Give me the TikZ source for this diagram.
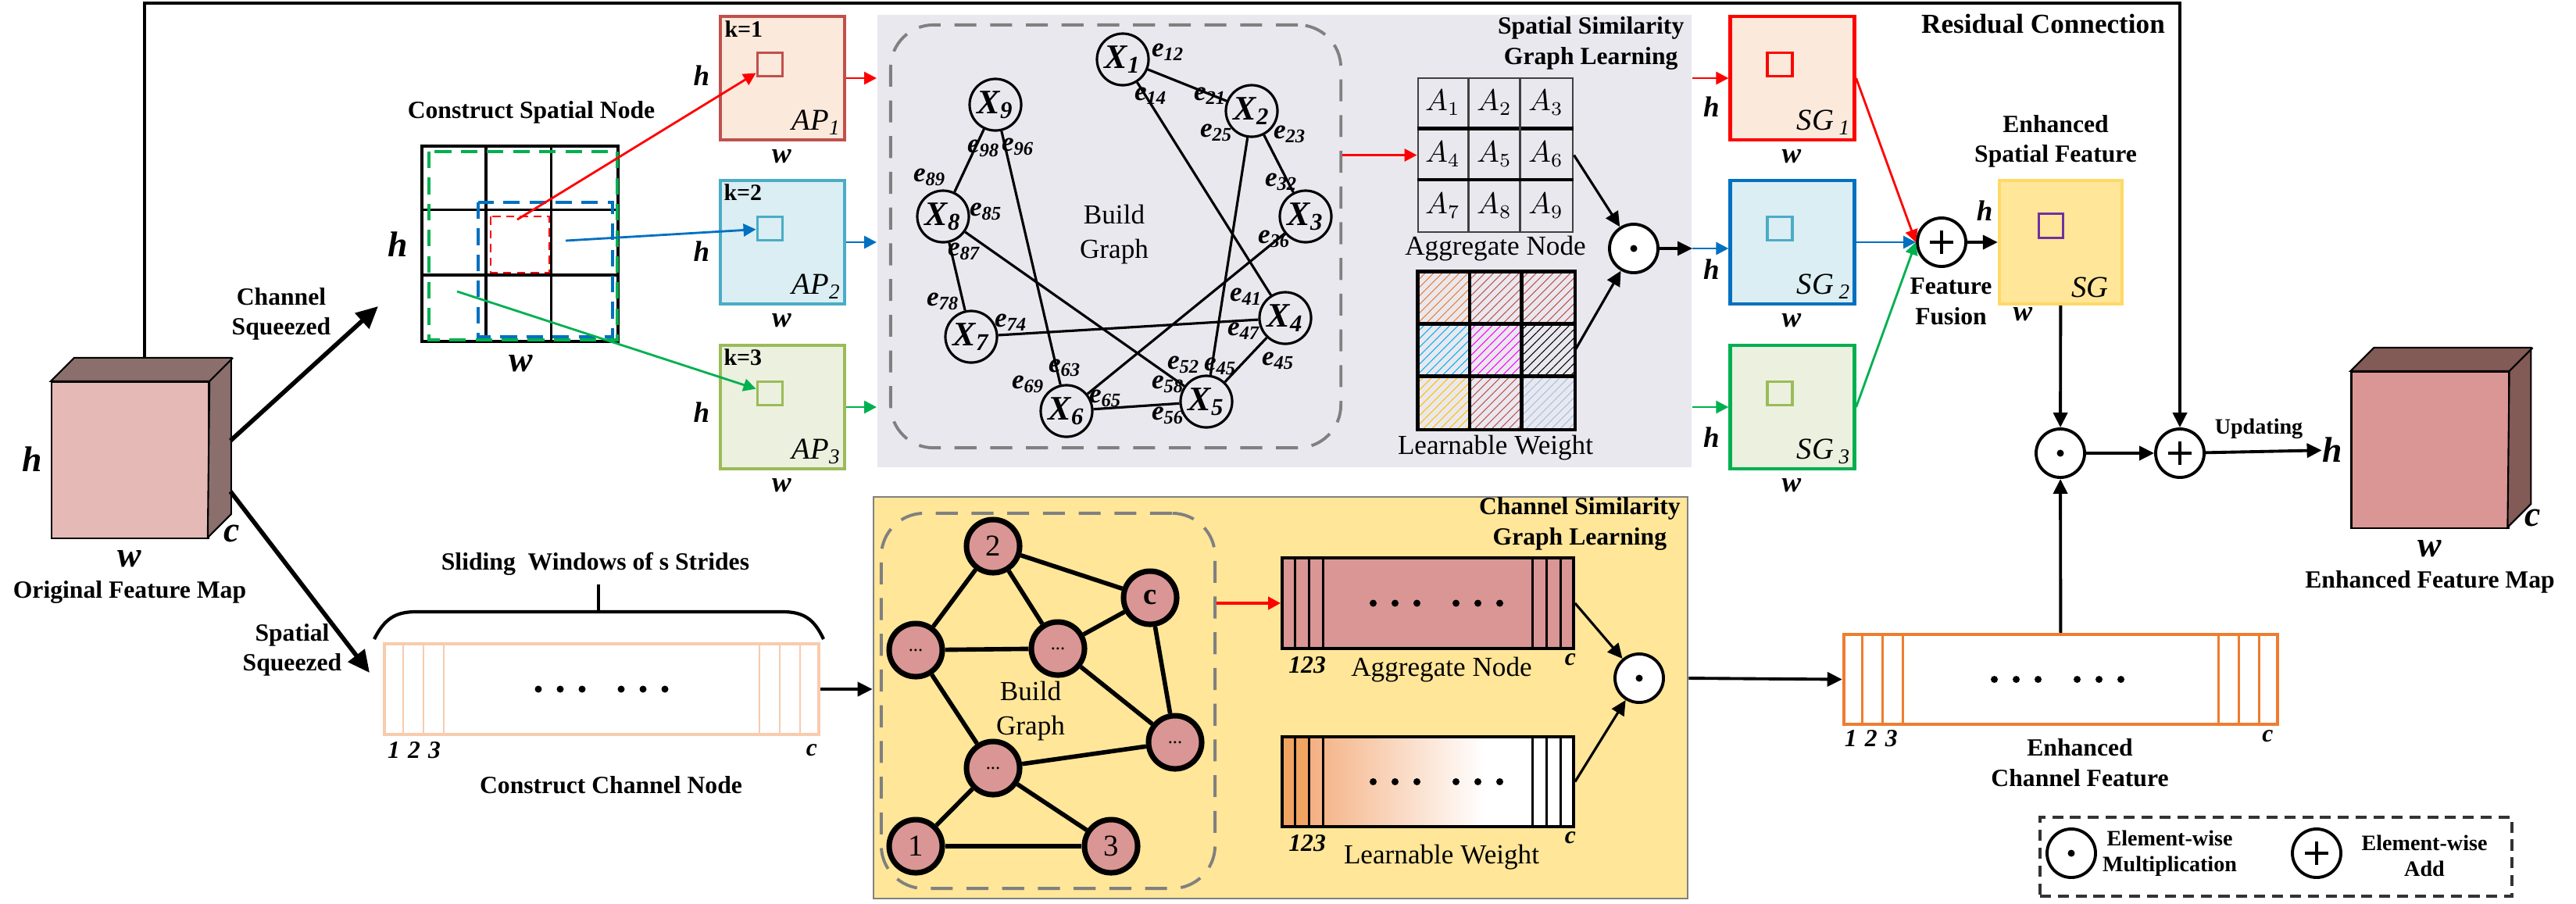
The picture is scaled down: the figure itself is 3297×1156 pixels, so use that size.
\documentclass[tikz,border=0pt]{standalone}
\usepackage{fontspec}
\setmainfont{Liberation Serif}
\usetikzlibrary{calc}
\usetikzlibrary{arrows.meta}
\usetikzlibrary{patterns.meta}
\usetikzlibrary{positioning}

% colours
\definecolor{apred}{HTML}{C0504D}
\definecolor{apredfill}{HTML}{FBE9DC}
\definecolor{apblue}{HTML}{4BACC6}
\definecolor{apbluefill}{HTML}{DAEEF3}
\definecolor{apgreen}{HTML}{9BBB59}
\definecolor{apgreenfill}{HTML}{EBF1DE}
\definecolor{linered}{HTML}{FF0000}
\definecolor{lineblue}{HTML}{0070C0}
\definecolor{linegreen}{HTML}{00B050}
\definecolor{panelgray}{HTML}{EAE8EF}
\definecolor{panelyellow}{HTML}{FFE699}
\definecolor{sgborder}{HTML}{FFD966}
\definecolor{cubelight}{HTML}{E4B9B6}
\definecolor{cubedark}{HTML}{8B6F6C}
\definecolor{ecubelight}{HTML}{D99694}
\definecolor{ecubedark}{HTML}{825A56}
\definecolor{chpink}{HTML}{D99694}
\definecolor{stripline}{HTML}{F8CBAD}
\definecolor{striporange}{HTML}{ED7D31}
\definecolor{lworange}{HTML}{F4B183}
\definecolor{lwdeep}{HTML}{F1A362}
\definecolor{dashgray}{HTML}{808080}
\definecolor{purplesq}{HTML}{7030A0}
\definecolor{hatchyellow}{HTML}{FFC000}
\definecolor{hatchcyan}{HTML}{00B0F0}
\definecolor{hatchlblue}{HTML}{9DC3E6}

\tikzstyle{flow}=[-{Triangle[length=1.9mm,width=1.8mm]},line width=1.1pt]
\tikzstyle{thinflow}=[-{Triangle[length=1.6mm,width=1.6mm]},line width=0.8pt]
\tikzstyle{bigflow}=[-{Triangle[length=2.8mm,width=2.6mm]},line width=1.6pt]
\tikzstyle{fmapbox}=[draw,line width=1.2pt,minimum width=1.59cm,minimum height=1.58cm,inner sep=0pt]
\tikzstyle{innersq}=[draw,line width=1.1pt,minimum width=0.32cm,minimum height=0.30cm,inner sep=0pt]
\tikzstyle{boldlbl}=[font=\fontsize{9}{11}\selectfont\bfseries,align=center,inner sep=0pt]
\tikzstyle{smallbold}=[font=\fontsize{8}{9.4}\selectfont\bfseries,align=center,inner sep=0pt]
\tikzstyle{plainlbl}=[font=\fontsize{10}{12.5}\selectfont,align=center,inner sep=0pt]
\tikzstyle{dimlbl}=[font=\fontsize{10.5}{12}\selectfont\bfseries\itshape,inner sep=0pt]
\tikzstyle{bigdim}=[font=\fontsize{13}{14}\selectfont\bfseries\itshape,inner sep=0pt]
\tikzstyle{boxlbl}=[font=\fontsize{11}{12}\selectfont\itshape,inner sep=0pt]
\tikzstyle{klbl}=[font=\fontsize{8.5}{10}\selectfont\bfseries,inner sep=0pt]
\tikzstyle{idxlbl}=[font=\fontsize{9}{10}\selectfont\bfseries\itshape,inner sep=0pt]
\tikzstyle{xnode}=[circle,draw,line width=0.9pt,minimum size=0.66cm,inner sep=0pt,font=\fontsize{12.5}{13}\selectfont\bfseries\itshape]
\tikzstyle{elbl}=[font=\fontsize{10}{11}\selectfont\bfseries\itshape,inner sep=0pt]
\tikzstyle{gedge}=[line width=0.9pt]
\tikzstyle{chnode}=[circle,draw,line width=2pt,fill=chpink,minimum size=0.68cm,inner sep=0pt,font=\fontsize{11}{12}\selectfont]
\tikzstyle{chedge}=[line width=1.6pt]
\tikzstyle{gframe}=[draw=dashgray,line width=1.1pt,dash pattern=on 8pt off 5pt,rounded corners=0.55cm,inner sep=0pt]
\tikzstyle{strip}=[line width=1pt,minimum height=1.16cm,inner sep=0pt]
\tikzstyle{odot}=[circle,draw,fill=white,line width=1.1pt,minimum size=0.62cm,inner sep=0pt,
  path picture={\fill[black] (path picture bounding box.center) circle (0.045cm);}]
\tikzstyle{oplus}=[circle,draw,fill=white,line width=1.1pt,minimum size=0.62cm,inner sep=0pt,
  path picture={\draw[black,line width=1pt] ($(path picture bounding box.center)+(-0.15cm,0)$) -- +(0.3cm,0)
    ($(path picture bounding box.center)+(0,-0.15cm)$) -- +(0,0.3cm);}]

% cube: name, centre of front face, front colour, side colour
\newcommand{\drawcube}[4]{
  \node[draw,line width=0.6pt,fill=#3,minimum width=2.01cm,minimum height=2cm,inner sep=0pt] (#1) at (#2) {};
  \draw[line width=0.6pt,fill=#4] (#1.north west) -- ++(30,-30) -- ++(201,0) -- ++(0,200) -- ++(-30,30) -- (#1.north east) -- cycle;
  \draw[line width=0.6pt] (#1.north east) -- ++(30,-30);
}

% feature box: name, centre, border, fill, inner square, label, shift of h
\newcommand{\fmap}[7]{
  \node[fmapbox,draw=#3,fill=#4] (#1) at (#2) {};
  \node[innersq,draw=#5] (#1in) at ($(#1)+(-16,-17.5)$) {};
  \node[boxlbl,anchor=south east] (#1lab) at ($(#1.south east)+(-6,-8)$) {#6};
  \node[dimlbl] (#1h) at ($(#1.west)+(-22,#7)$) {h};
  \node[dimlbl] (#1w) at ($(#1.south)+(-1,19)$) {w};
}

% channel strip: name, centre, width, cell step, line colour, dot shift, extra options
\newcommand{\chanstrip}[7]{
  \node[strip,draw=#5,minimum width=#3,#7] (#1) at (#2) {};
  \foreach \k in {1,2,3} {
    \draw[#5,line width=0.8pt] ($(#1.north west)+(\k*#4,0)$) -- ($(#1.south west)+(\k*#4,0)$);
    \draw[#5,line width=0.8pt] ($(#1.north east)+(-\k*#4,0)$) -- ($(#1.south east)+(-\k*#4,0)$);
  }
  \foreach \d in {-81,-53,-25,25,53,81}
    \fill ($(#1)+({\d+(#6)},0)$) circle (0.045cm);
}

\begin{document}
\begin{tikzpicture}[x=0.01cm,y=-0.01cm]
\useasboundingbox (0,0) rectangle (3297,1156);

% backgrounds
\node[fill=panelgray,minimum width=10.42cm,minimum height=5.79cm,inner sep=0pt] (sppanel) at (1644,308.5) {};
\node[draw=dashgray,line width=0.6pt,fill=panelyellow,minimum width=10.42cm,minimum height=5.14cm,inner sep=0pt] (chpanel) at (1639,893) {};

% original feature map
\drawcube{ofm}{166.5,589}{cubelight}{cubedark}
\node[bigdim] (ofmh) at (41,588) {h};
\node[bigdim] (ofmw) at (166,715) {w};
\node[bigdim] (ofmc) at (297,683) {c};
\node[boldlbl,below=0.16cm of ofmw] (ofmlab) {Original Feature Map};

% residual connection
\coordinate (resstart) at ($(ofm.north west)+(120,-30)$);
\coordinate (restop) at (0,4);
\node[oplus] (plusB) at (2790,580) {};
\draw[flow] (resstart) |- (restop -| plusB) -- (plusB);
\node[boldlbl,font=\fontsize{10}{12}\selectfont\bfseries] (reslab) at (2615,30) {Residual Connection};

% squeeze arrows
\coordinate (csqS) at (295,564);
\coordinate (csqE) at (484,392);
\coordinate (ssqS) at (295,629);
\coordinate (ssqE) at (473,861);
\draw[bigflow] (csqS) -- (csqE);
\draw[bigflow] (ssqS) -- (ssqE);
\node[boldlbl] (csqlab) at (360,402) {Channel\\Squeezed};
\node[boldlbl] (ssqlab) at (374,832) {Spatial\\Squeezed};

% construct spatial node
\node[draw,line width=1pt,minimum width=2.51cm,minimum height=2.5cm,inner sep=0pt] (spgrid) at (665.5,312) {};
\foreach \i in {1,2} {
  \draw[line width=1pt] ($(spgrid.north west)+(\i*83.7,0)$) -- ($(spgrid.south west)+(\i*83.7,0)$);
  \draw[line width=1pt] ($(spgrid.north west)+(0,\i*83.3)$) -- ($(spgrid.north east)+(0,\i*83.3)$);
}
\draw[linegreen,line width=1.1pt,dash pattern=on 6pt off 3.5pt] (549,194) rectangle (790,435);
\draw[lineblue,line width=1.1pt,dash pattern=on 6pt off 3.5pt] (612,259) rectangle (784,431);
\draw[linered,line width=0.8pt,dash pattern=on 3pt off 2pt] (628,277) rectangle (703,349);
\node[boldlbl] (spgridlab) at (680,144) {Construct Spatial Node};
\node[bigdim] (spgridh) at (509,313) {h};
\node[bigdim] (spgridw) at (667,465) {w};

% AP boxes
\fmap{ap1}{1001.5,100}{apred}{apredfill}{apred}{AP\textsubscript{1}}{-3}
\fmap{ap2}{1001.5,310}{apblue}{apbluefill}{apblue}{AP\textsubscript{2}}{12}
\fmap{ap3}{1001.5,521}{apgreen}{apgreenfill}{apgreen}{AP\textsubscript{3}}{7}
\node[klbl,anchor=north west] (ap1k) at ($(ap1.north west)+(7,7)$) {k=1};
\node[klbl,anchor=north west] (ap2k) at ($(ap2.north west)+(6,6)$) {k=2};
\node[klbl,anchor=north west] (ap3k) at ($(ap3.north west)+(6,6)$) {k=3};
\coordinate (kred) at (662,281);
\coordinate (kblue) at (724,308);
\coordinate (kgreen) at (585,373);
\draw[thinflow,linered] (kred) -- (ap1in);
\draw[thinflow,lineblue] (kblue) -- (ap2in);
\draw[thinflow,linegreen] (kgreen) -- (ap3in);
\draw[thinflow,linered] (ap1.east) -- (ap1.east -| sppanel.west);
\draw[thinflow,lineblue] (ap2.east) -- (ap2.east -| sppanel.west);
\draw[thinflow,linegreen] (ap3.east) -- (ap3.east -| sppanel.west);

% spatial graph
\node[gframe,minimum width=5.76cm,minimum height=5.41cm] (gframe) at (1428,302.5) {};
\node[xnode] (x1) at (1437,76) {X\textsubscript{1}};
\node[xnode] (x2) at (1602,142) {X\textsubscript{2}};
\node[xnode] (x3) at (1671,277) {X\textsubscript{3}};
\node[xnode] (x4) at (1645,407) {X\textsubscript{4}};
\node[xnode] (x5) at (1544,514) {X\textsubscript{5}};
\node[xnode] (x6) at (1365,526) {X\textsubscript{6}};
\node[xnode] (x7) at (1243,431) {X\textsubscript{7}};
\node[xnode] (x8) at (1207,277) {X\textsubscript{8}};
\node[xnode] (x9) at (1274,134) {X\textsubscript{9}};
\foreach \a/\b in {x1/x2,x1/x4,x2/x3,x2/x5,x3/x6,x4/x5,x4/x7,x5/x6,x5/x8,x6/x9,x7/x8,x8/x9}
  \draw[gedge] (\a) -- (\b);
\foreach \x/\y/\t [count=\n] in {1495/67/12,1473/123/14,1549/123/21,1557/170/25,1651/172/23,1640/233/32,
    1631/306/36,1595/380/41,1592/424/47,1636/462/45,1562/469/45,1515/467/52,1495/492/58,1495/532/56,
    1415/510/65,1363/471/63,1316/492/69,1294/413/74,1207/386/78,1234/322/87,1262/271/85,1190/227/89,
    1259/190/98,1303/188/96}
  \node[elbl] (elab\n) at (\x,\y) {e\textsubscript{\t}};
\node[plainlbl] (bglab) at (1426,300) {Build\\Graph};

% aggregate node and learnable weight
\node[draw=black!75,line width=0.8pt,minimum width=1.98cm,minimum height=1.97cm,inner sep=0pt] (agg) at (1914,198.5) {};
\foreach \i in {1,2} {
  \draw[black!75,line width=0.8pt] ($(agg.north west)+(\i*66,0)$) -- ($(agg.south west)+(\i*66,0)$);
  \draw[line width=1.3pt] ($(agg.north west)+(0,\i*65.7)$) -- ($(agg.north east)+(0,\i*65.7)$);
}
\foreach \r in {0,1,2} {
  \foreach \c in {0,1,2} {
    \pgfmathtruncatemacro{\k}{3*\r+\c+1}
    \node[font=\fontsize{10.5}{11}\selectfont] (a\k) at ($(agg.north west)+(33+66*\c,33+65.7*\r)$) {$A_{\k}$};
  }
}
\draw[thinflow,linered] (agg.west -| gframe.east) -- (agg.west);
\node[plainlbl] (agglab) at (1914,318) {Aggregate Node};

\node[minimum width=2cm,minimum height=2.01cm,inner sep=0pt] (lw) at (1915,448.5) {};
\foreach \c/\r/\col in {0/0/striporange,1/0/apred,2/0/apred,0/1/hatchcyan,1/1/magenta,2/1/black,0/2/hatchyellow,1/2/apred,2/2/hatchlblue}
  \fill[pattern={Lines[angle=45,distance=2.2pt,line width=0.3pt]},pattern color=\col] ($(lw.north west)+(66.7*\c,67*\r)$) rectangle ++(66.7,67);
\draw[line width=1.3pt] (lw.north west) rectangle (lw.south east);
\foreach \i in {1,2} {
  \draw[line width=1.3pt] ($(lw.north west)+(\i*66.7,0)$) -- ($(lw.south west)+(\i*66.7,0)$);
  \draw[line width=1.3pt] ($(lw.north west)+(0,\i*67)$) -- ($(lw.north east)+(0,\i*67)$);
}
\node[plainlbl] (lwlab) at (1914,573) {Learnable Weight};

\node[odot] (dotA) at (2091,318) {};
\draw[flow,line width=0.9pt] (agg.east) -- (dotA);
\draw[flow,line width=0.9pt] (lw.east) -- (dotA);
\draw[flow,line width=0.9pt] (dotA) -- (dotA -| sppanel.east);
\node[boldlbl,anchor=north east] (sptitle) at ($(sppanel.north east)+(-10,3)$) {Spatial Similarity\\Graph Learning};

% similarity graphs
\fmap{sg1}{2294,100}{linered}{apredfill}{linered}{SG\,\textsubscript{1}}{37}
\fmap{sg2}{2294,310}{lineblue}{apbluefill}{apblue}{SG\,\textsubscript{2}}{35}
\fmap{sg3}{2294,521}{linegreen}{apgreenfill}{apgreen}{SG\,\textsubscript{3}}{39}
\draw[thinflow,linered] (sg1.west -| sppanel.east) -- (sg1.west);
\draw[thinflow,lineblue] (dotA -| sppanel.east) -- (dotA -| sg2.west);
\draw[thinflow,linegreen] (sg3.west -| sppanel.east) -- (sg3.west);

% feature fusion
\node[oplus] (plusA) at (2485,310) {};
\draw[thinflow,linered] (sg1.east) -- (plusA.west);
\draw[thinflow,lineblue] (sg2.east) -- (plusA.west);
\draw[thinflow,linegreen] (sg3.east) -- (plusA.west);
\node[boldlbl] (fuslab) at (2497,386) {Feature\\Fusion};

\node[fmapbox,draw=sgborder,fill=panelyellow,minimum width=1.57cm] (esg) at (2637.5,310) {};
\node[innersq,draw=purplesq,minimum width=0.31cm,minimum height=0.31cm] (esgin) at (2625,289) {};
\node[boxlbl,anchor=south east] (esglbl) at ($(esg.south east)+(-19,-10)$) {SG};
\node[dimlbl] (esgh) at (2540,270) {h};
\node[dimlbl] (esgw) at (2589,402) {w};
\node[boldlbl] (esglab) at (2631,181) {Enhanced\\Spatial Feature};
\draw[flow] (plusA) -- (esg);

% merging
\node[odot] (dotB) at (2637,580) {};
\draw[flow] (esg) -- (dotB);
\draw[flow] (dotB) -- (plusB);

% enhanced feature map
\drawcube{efm}{3110,576}{ecubelight}{ecubedark}
\node[bigdim] (efmh) at (2985,576) {h};
\node[bigdim] (efmc) at (3242,663) {c};
\node[bigdim] (efmw) at (3110,702) {w};
\node[boldlbl,below=0.16cm of efmw] (efmlab) {Enhanced Feature Map};
\draw[flow] (plusB) -- (efmh);
\node[smallbold] (updlab) at (2891,549) {Updating};

% construct channel node
\chanstrip{cs}{770,882}{5.56cm}{26}{stripline}{0}{}
\foreach \k in {1,2,3}
  \node[idxlbl] (csi\k) at ($(cs.south west)+(\k*26-12,18)$) {\k};
\node[idxlbl] (csic) at ($(cs.south east)+(-11,18)$) {c};
\node[boldlbl] (cslab) at (782,1005) {Construct Channel Node};
\coordinate (brL) at (479,818);
\coordinate (brR) at (1054,818);
\coordinate (brtick) at (766,748);
\coordinate (brtop) at (766,783);
\draw[line width=1.2pt] (brL) .. controls (492,792) and (506,783) .. (532,783) -- (1002,783) .. controls (1028,783) and (1042,792) .. (brR);
\draw[line width=1.2pt] (brtick) -- (brtop);
\node[boldlbl] (slidelab) at (762,722) {Sliding\enspace Windows of s Strides};
\draw[flow] (cs.east) -- (cs.east -| chpanel.west);

% channel graph
\node[gframe,minimum width=4.27cm,minimum height=4.8cm] (chframe) at (1341.5,897) {};
\node[chnode] (cn2) at (1271,699) {2};
\node[chnode] (cnc) at (1472,765) {\textbf{c}};
\node[chnode] (cnl) at (1172,832) {\fontsize{7}{8}\selectfont...};
\node[chnode] (cnm) at (1354,830) {\fontsize{7}{8}\selectfont...};
\node[chnode] (cnr) at (1504,950) {\fontsize{7}{8}\selectfont...};
\node[chnode] (cnb) at (1271,983) {\fontsize{7}{8}\selectfont...};
\node[chnode] (cn1) at (1172,1083) {1};
\node[chnode] (cn3) at (1422,1083) {3};
\foreach \a/\b in {cn2/cnc,cn2/cnl,cn2/cnm,cnl/cnm,cnm/cnc,cnm/cnr,cnc/cnr,cnl/cnb,cnb/cnr,cnb/cn1,cnb/cn3,cn1/cn3}
  \draw[chedge] (\a) -- (\b);
\node[plainlbl] (cbglab) at (1319,910) {Build\\Graph};

% channel aggregate and learnable weight
\chanstrip{aggch}{1827.5,772}{3.73cm}{18}{black}{11}{fill=chpink}
\fill[white] (1641,943) rectangle (2014,1058);
\fill[lwdeep] (1641,943) rectangle (1677,1058);
\shade[left color=lworange,right color=white] (1677,943) rectangle (1900,1058);
\chanstrip{lwch}{1827.5,1000.5}{3.73cm}{18}{black}{11}{minimum height=1.15cm}
\node[idxlbl] (aggidx) at ($(aggch.south west)+(34,19)$) {123};
\node[idxlbl] (aggidxc) at ($(aggch.south east)+(-6,12)$) {c};
\node[idxlbl] (lwidx) at ($(lwch.south west)+(34,19)$) {123};
\node[idxlbl] (lwidxc) at ($(lwch.south east)+(-6,12)$) {c};
\node[plainlbl] (caglab) at (1845,857) {Aggregate Node};
\node[plainlbl] (clwlab) at (1845,1097) {Learnable Weight};
\draw[thinflow,linered,line width=1.1pt] (aggch.west -| chframe.east) -- (aggch.west);
\node[odot] (dotC) at (2098,868) {};
\draw[flow,line width=0.9pt] (aggch.east) -- (dotC);
\draw[flow,line width=0.9pt] (lwch.east) -- (dotC);
\node[boldlbl,anchor=north east] (chtitle) at ($(chpanel.north east)+(-10,1)$) {Channel Similarity\\Graph Learning};

% enhanced channel feature
\chanstrip{ech}{2637.5,869.5}{5.55cm}{26}{striporange}{-4}{line width=1.2pt,minimum height=1.15cm}
\foreach \k in {1,2,3}
  \node[idxlbl] (echi\k) at ($(ech.south west)+(\k*26-15,16)$) {\k};
\node[idxlbl] (echic) at ($(ech.south east)+(-15,13)$) {c};
\node[boldlbl] (echlab) at (2662,976) {Enhanced\\Channel Feature};
\draw[flow] (dotC -| chpanel.east) -- (ech.west);
\draw[flow] (ech) -- (dotB);

% legend
\node[draw=black!80,line width=1.1pt,dash pattern=on 4pt off 2.5pt,minimum width=6.04cm,minimum height=1.01cm,inner sep=0pt] (legend) at (2913,1096.5) {};
\node[odot] (legdot) at (2651,1092) {};
\node[smallbold] (legdotlab) at (2777,1092) {Element-wise\\Multiplication};
\node[oplus] (legplus) at (2965,1092) {};
\node[smallbold] (legpluslab) at (3103,1095) {Element-wise\\Add};

\end{tikzpicture}
\end{document}
